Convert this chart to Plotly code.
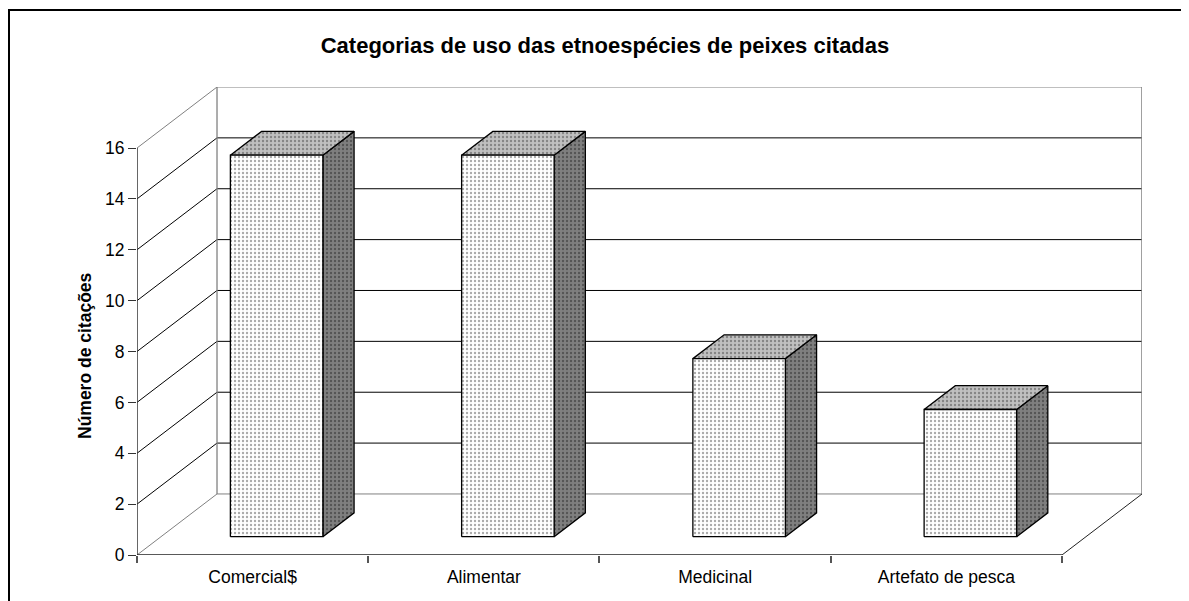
import plotly.graph_objects as go

categories = ["Comercial$", "Alimentar", "Medicinal", "Artefato de pesca"]
values = [15, 15, 7, 5]
y_ticks = [0, 2, 4, 6, 8, 10, 12, 14, 16]
title_text = "Categorias de uso das etnoespécies de peixes citadas"
y_title = "Número de citações"

# pseudo-3D geometry (style constants)
Y_MAX = max(y_ticks)
DX = 0.346   # depth shift in category units
DY = 2.4     # depth shift in value units
D_FRONT, D_BACK = 0.3, 0.69
HALF_W = 0.2
n = len(categories)
x_lo, x_hi = -0.5, n - 0.5

FONT = "Liberation Sans, Arial, sans-serif"
GREY = "#808080"

# page offset (browser body margin)
OFF = 8
W, H = 1189, 601
PL, PT, PW, PH = 137 - OFF, 87 - OFF, 1005, 468


def P(x, y, d):
    return x + DX * d, y + DY * d


fig = go.Figure()


def line(pts, color, width=1.0):
    xs = [p[0] for p in pts]
    ys = [p[1] for p in pts]
    fig.add_trace(go.Scatter(x=xs, y=ys, mode="lines",
                             line=dict(color=color, width=width),
                             hoverinfo="skip", showlegend=False))


def poly(pts, bg, fg):
    xs = [p[0] for p in pts] + [pts[0][0]]
    ys = [p[1] for p in pts] + [pts[0][1]]
    fig.add_trace(go.Scatter(
        x=xs, y=ys, mode="lines", fill="toself", fillcolor=bg,
        fillpattern=dict(shape=".", size=4, solidity=0.28, fgcolor=fg, bgcolor=bg),
        line=dict(color="#000000", width=1.3),
        hoverinfo="skip", showlegend=False))


# walls and gridlines
for v in y_ticks:
    c = GREY if v in (0, Y_MAX) else "#000000"
    line([P(x_lo, v, 0), P(x_lo, v, 1), P(x_hi, v, 1)], c)
# back wall vertical edges
line([P(x_lo, 0, 1), P(x_lo, Y_MAX, 1)], GREY, 1.3)
line([P(x_hi, 0, 1), P(x_hi, Y_MAX, 1)], GREY, 1.5)
# floor
line([P(x_hi, 0, 0), P(x_hi, 0, 1)], "#222222")

# bars
for i, v in enumerate(values):
    l, r = i - HALF_W, i + HALF_W
    front = [P(l, 0, D_FRONT), P(r, 0, D_FRONT), P(r, v, D_FRONT), P(l, v, D_FRONT)]
    side = [P(r, 0, D_FRONT), P(r, 0, D_BACK), P(r, v, D_BACK), P(r, v, D_FRONT)]
    top = [P(l, v, D_FRONT), P(r, v, D_FRONT), P(r, v, D_BACK), P(l, v, D_BACK)]
    poly(side, "#7f7f7f", "#2a2a2a")
    poly(top, "#c0c0c0", "#484848")
    poly(front, "#ffffff", "#555555")

# front axes
line([P(x_lo, 0, 0), P(x_hi, 0, 0)], "#222222", 1.5)
line([P(x_lo, 0, 0), P(x_lo, Y_MAX, 0)], "#333333", 1.5)

# invisible trace on xaxis2 so it renders
fig.add_trace(go.Scatter(x=[x_lo], y=[0], xaxis="x2", mode="markers",
                         marker=dict(opacity=0), hoverinfo="skip", showlegend=False))

x_range = [x_lo, x_hi + DX]
fig.update_layout(
    width=W, height=H,
    margin=dict(l=PL, r=W - PL - PW, t=PT, b=H - PT - PH),
    paper_bgcolor="white", plot_bgcolor="white",
    font=dict(family=FONT, color="#000000"),
    title=dict(text="<b>" + title_text + "</b>", x=(605 - OFF) / W, xanchor="center",
               y=1 - (45 - OFF) / H, yanchor="middle", xref="container", yref="container",
               font=dict(size=22, family=FONT, color="#000000")),
    xaxis=dict(range=x_range, showgrid=False, zeroline=False, showline=False,
               tickmode="array", tickvals=list(range(n)), ticktext=categories,
               ticks="outside", ticklen=6, tickcolor="rgba(0,0,0,0)",
               tickfont=dict(size=17.5, family=FONT)),
    xaxis2=dict(range=x_range, overlaying="x", anchor="y", side="bottom",
                showgrid=False, zeroline=False, showline=False,
                tickmode="array", tickvals=[x_lo + k for k in range(n + 1)],
                ticks="outside", ticklen=7, tickcolor="#555555", tickwidth=1.5,
                showticklabels=False),
    yaxis=dict(range=[0, Y_MAX + DY], showgrid=False, zeroline=False, showline=False,
               tickmode="array", tickvals=y_ticks,
               ticks="outside", ticklen=8, tickcolor="#333333", tickwidth=1.3,
               tickfont=dict(size=17.5, family=FONT)),
    shapes=[dict(type="rect", xref="paper", yref="paper",
                 x0=(1 - PL) / PW, x1=1.3, y0=-0.3, y1=(PT + PH - 2) / PH,
                 line=dict(color="#000000", width=2), layer="below")],
    annotations=[dict(text="<b>" + y_title + "</b>", xref="paper", yref="paper",
                      x=(85 - OFF - PL) / PW, y=(555 - 356) / PH, textangle=-90,
                      showarrow=False, xanchor="center", yanchor="middle",
                      font=dict(size=17.5, family=FONT, color="#000000"))],
)

fig.write_html("out.html")
